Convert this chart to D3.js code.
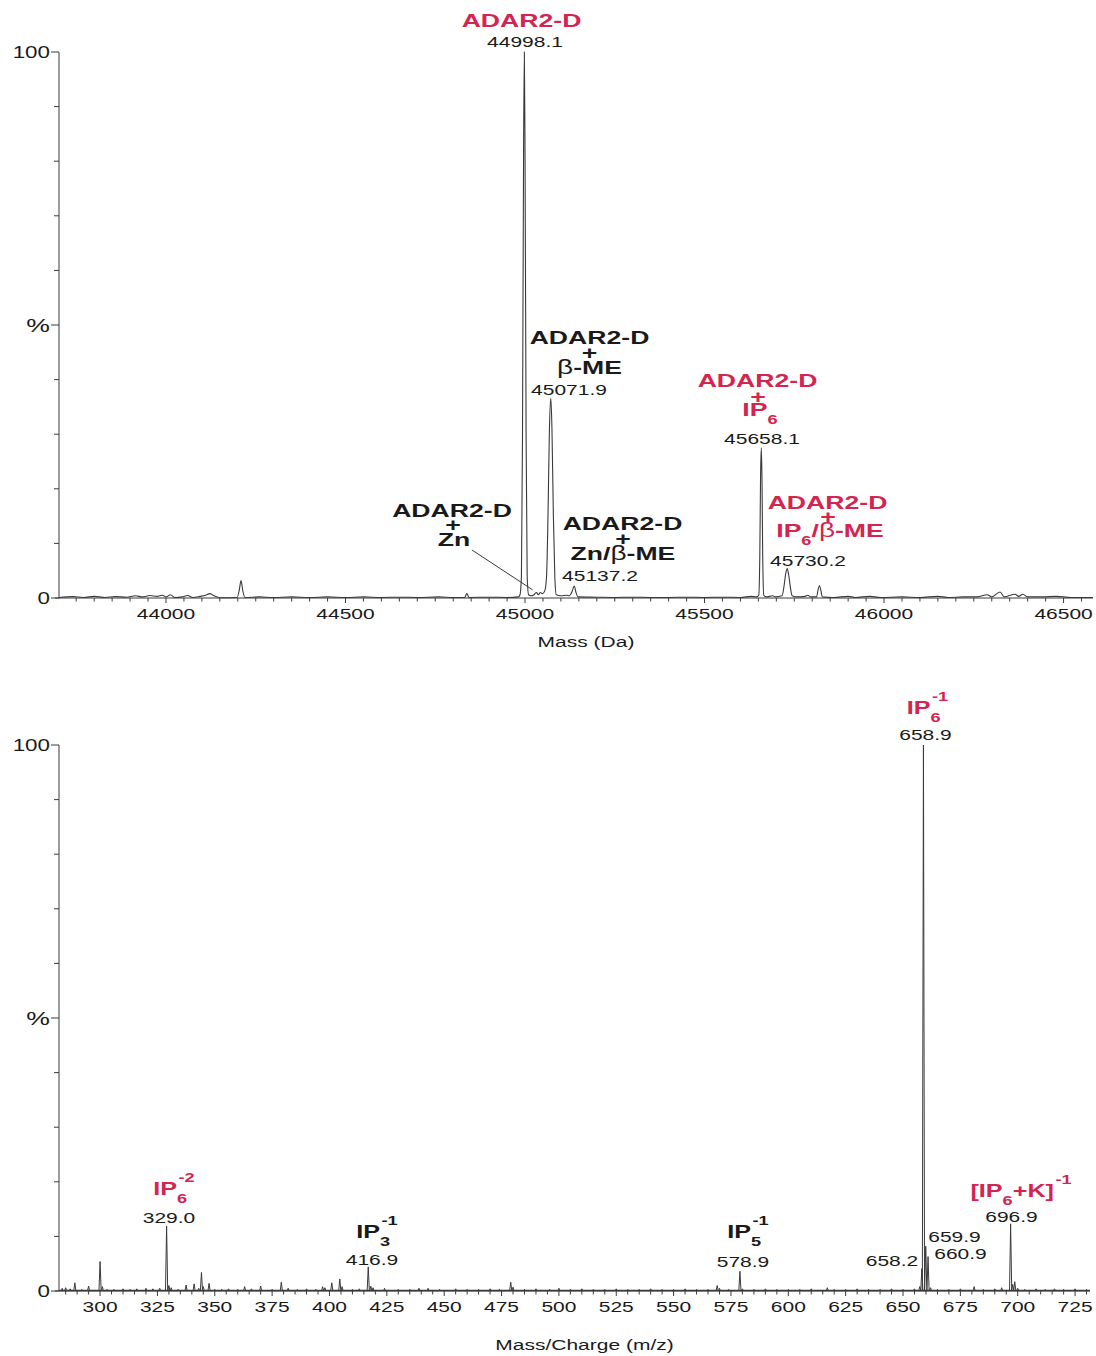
<!DOCTYPE html>
<html><head><meta charset="utf-8">
<script src="https://cdn.jsdelivr.net/npm/d3@7"></script>
<style>
body{margin:0;background:#fff}
svg{display:block}
text{font-family:"Liberation Sans",Arial,Helvetica,sans-serif}
</style>
</head><body>
<svg id="c" width="1096" height="1356"></svg>
<script>
// ---------------- DATA ----------------
// Deconvoluted protein spectrum: [mass (Da), relative intensity %]
const topSpectrum = [
[43702,0.1],[43740,0.25],[43770,0.1],[43800,0.3],[43830,0.1],[43860,0.25],[43890,0.15],[43915,0.4],[43935,0.2],[43955,0.45],[43975,0.3],[43990,0.5],[44000,0.2],[44012,0.6],[44025,0.1],[44045,0.2],[44060,0.45],[44075,0.1],[44095,0.3],[44110,0.5],[44122,0.8],[44134,0.4],[44150,0.05],
[44198,0.1],[44204,1.4],[44209,3.2],[44214,1.3],[44220,0.05],
[44260,0.2],[44300,0.1],[44350,0.2],[44400,0.1],[44450,0.2],[44500,0.1],[44550,0.2],[44600,0.1],[44650,0.15],[44700,0.1],[44760,0.2],[44800,0.1],[44832,0.1],[44838,0.8],[44844,0.1],[44900,0.15],[44950,0.1],[44982,0.2],
[44986,0.6],[44990,4],[44993,30],[44996,82],[44998.1,100],[45000,82],[45003,30],[45006,4],[45010,0.6],
[45018,0.4],[45025,0.6],[45032,1.0],[45037,0.6],[45043,1.0],[45049,0.8],[45055,1.3],
[45060,4],[45064,15],[45068,31],[45071.9,36.6],[45075,31],[45079,15],[45083,4],[45087,0.6],
[45100,0.4],[45115,0.5],[45124,0.4],[45131,1.2],[45137.2,2.2],[45142,1.0],[45148,0.2],
[45200,0.15],[45250,0.1],[45300,0.15],[45350,0.1],[45400,0.1],[45450,0.15],[45500,0.1],[45550,0.15],[45600,0.1],[45630,0.3],[45645,0.2],[45651,0.5],[45654,8],[45656,22],[45658.1,27.5],[45660,22],[45662,8],[45665,0.5],[45672,0.2],[45690,0.4],[45698,0.2],
[45716,0.4],[45721,2],[45726,4.4],[45730.2,5.4],[45734,4.4],[45739,2],[45744,0.4],[45755,0.2],
[45780,0.3],[45788,0.5],[45796,0.2],[45812,0.2],[45816,1.4],[45820,2.3],[45824,1.4],[45828,0.2],
[45860,0.1],[45900,0.3],[45920,0.1],[45960,0.3],[45990,0.1],[46050,0.2],[46100,0.1],[46150,0.3],[46180,0.1],[46220,0.2],[46260,0.2],[46287,0.6],[46300,0.2],[46323,1.1],[46335,0.2],[46365,0.7],[46375,0.3],[46387,0.7],[46400,0.2],[46440,0.2],[46480,0.3],[46520,0.1],[46582,0.1]
];
const topDomain = [43702, 46582];
const topTickLabels = [44000, 44500, 45000, 45500, 46000, 46500];
const topMinorStep = 50;
// pointer from "Zn" label to the small Zn adduct bump: [mass, %]
const znPointer = [[44852, 8.8], [45021, 1.5]];

// ESI negative-ion spectrum peaks: [m/z, relative intensity %]
const bottomPeaks = [
[283.5,0.5],[285,0.6],[287,0.4],[289,1.5],[292,0.3],[295,0.9],[300.0,5.4],[301,0.8],[303,0.3],[306,0.3],[310,0.4],[313,0.3],[316,0.4],[320,0.5],[323,0.4],[326,0.5],[329.0,11.9],[330,1.0],[331,0.6],[334,0.3],[337.5,1.1],[341,1.3],[343,0.5],[344.2,3.4],[345,0.8],[347.5,1.4],[350,0.3],[353,0.3],[356,0.4],[360,0.3],[363,0.8],[366,0.4],[370,0.9],[375,0.3],[379,1.6],[382,0.5],[386,0.3],[390,0.4],[394,0.3],[397,0.8],[398,0.6],[401,1.5],[404.5,2.2],[405.5,0.8],[410,0.3],[413,0.4],[416.9,4.4],[418,0.9],[419,0.6],[424,0.5],[430,0.3],[435,0.3],[439,0.5],[443,0.5],[448,0.3],[455,0.4],[460,0.3],[465,0.3],[470,0.4],[474,0.3],[479,1.6],[480,0.7],[485,0.3],[490,0.4],[496,0.3],[500,0.5],[505,0.3],[510,0.4],[515,0.3],[520,0.3],[525,0.4],[530,0.3],[535,0.3],[540,0.4],[545,0.3],[550,0.3],[555,0.4],[560,0.3],[565,0.3],[569,1.0],[570,0.5],[574,0.3],[578.9,3.6],[580,0.4],[585,0.3],[590,0.4],[595,0.3],[600,0.3],[605,0.3],[610,0.4],[617,0.6],[620,0.3],[625,0.3],[630,0.4],[635,0.3],[640,0.3],[645,0.4],[650,0.3],[655,0.4],[657.3,0.8],[658.2,4.1],[658.9,100],[659.9,8.2],[660.9,6.3],[662,0.6],[665,0.3],[670,0.3],[675,0.4],[681,0.8],[685,0.3],[690,0.4],[693,0.6],[696.9,12.3],[697.8,1.2],[698.7,1.7],[700,0.5],[703,0.3],[708,0.4],[712,0.3],[716,0.4],[720,0.3],[725,0.4],[730,0.3]
];
const bottomDomain = [282.1, 731.5];
const bottomTickLabels = [300,325,350,375,400,425,450,475,500,525,550,575,600,625,650,675,700,725];
const bottomMinorStep = 5;

const yTickValues = [0,10,20,30,40,50,60,70,80,90,100];
const yTickText = {0:"0", 50:"%", 100:"100"};

// ---------------- STYLE / LAYOUT ----------------
const RED = "#d42450", INK = "#1a1a1a", LINE = "#3a3a3a";
const SX = 1.4; // horizontal stretch of the lettering
const panels = {
  top:    {x0:59, x1:1093, y0:598,  y1:52},
  bottom: {x0:59, x1:1090, y0:1291, y1:745}
};

const svg = d3.select("#c");

function txt(parent, x, y, s, o={}) {
  const g = parent.append("g").attr("transform", `translate(${x},${y}) scale(${SX},1)`);
  g.append("text").attr("text-anchor", o.anchor || "middle")
    .attr("font-size", o.size || 15).attr("font-weight", o.weight || "normal")
    .attr("fill", o.fill || INK).text(s);
  return g;
}
// parts: {t} text (optional w: weight), {sub, sup} stacked scripts
function rich(parent, cx, y, parts, o={}) {
  const size = o.size || 19, ss = o.ss || 13, fill = o.fill || INK;
  const subDy = o.subDy ?? 7.5, supDy = o.supDy ?? -13;
  const g = parent.append("g").attr("transform", `translate(${cx},${y}) scale(${SX},1)`);
  const inner = g.append("g");
  let cur = 0;
  parts.forEach(p => {
    if (p.t !== undefined) {
      const t = inner.append("text").attr("x", cur).attr("font-size", p.size || size)
        .attr("font-weight", p.w || "bold").attr("fill", fill).text(p.t);
      cur += t.node().getComputedTextLength();
    } else {
      let w = 0;
      if (p.sub !== undefined) {
        const t = inner.append("text").attr("x", cur).attr("y", subDy).attr("font-size", ss)
          .attr("font-weight", "bold").attr("fill", fill).text(p.sub);
        w = Math.max(w, t.node().getComputedTextLength());
      }
      if (p.sup !== undefined) {
        const t = inner.append("text").attr("x", cur + 1).attr("y", supDy).attr("font-size", ss)
          .attr("font-weight", "bold").attr("fill", fill).text(p.sup);
        w = Math.max(w, t.node().getComputedTextLength() + 1);
      }
      cur += w;
    }
  });
  inner.attr("transform", `translate(${-cur/2},0)`);
  return g;
}

function yAxis(P) {
  const y = d3.scaleLinear().domain([0,100]).range([P.y0, P.y1]);
  const g = svg.append("g");
  g.append("line").attr("x1", P.x0).attr("x2", P.x0).attr("y1", P.y0).attr("y2", P.y1)
    .attr("stroke", LINE).attr("stroke-width", 1);
  yTickValues.forEach(v => {
    const lab = yTickText[v] !== undefined;
    g.append("line").attr("x1", P.x0 - (lab ? 8 : 5)).attr("x2", P.x0)
      .attr("y1", y(v)).attr("y2", y(v)).attr("stroke", LINE).attr("stroke-width", 1);
    if (lab) {
      const pct = yTickText[v] === "%";
      txt(g, P.x0 - 9, y(v) + (pct ? 6.5 : 5.5), yTickText[v], {anchor:"end", size: pct ? 19 : 16});
    }
  });
  return y;
}

function xAxis(P, x, labels, step, titleY, title) {
  const g = svg.append("g");
  g.append("line").attr("x1", P.x0 - 4).attr("x2", P.x1).attr("y1", P.y0).attr("y2", P.y0)
    .attr("stroke", LINE).attr("stroke-width", 1);
  const [d0, d1] = x.domain();
  const minors = d3.range(Math.ceil(d0 / step) * step, d1, step);
  minors.forEach(v => {
    const major = labels.includes(v);
    g.append("line").attr("x1", x(v)).attr("x2", x(v)).attr("y1", P.y0).attr("y2", P.y0 + (major ? 5 : 3.5))
      .attr("stroke", LINE).attr("stroke-width", 1);
  });
  labels.forEach(v => txt(g, x(v), P.y0 + 21, String(v), {size:15}));
  txt(g, (P.x0 + P.x1) / 2 + 10, titleY, title, {size:15});
}

// ---------------- TOP PANEL ----------------
{
  const P = panels.top;
  const x = d3.scaleLinear().domain(topDomain).range([P.x0, P.x1]);
  const y = yAxis(P);
  xAxis(P, x, topTickLabels, topMinorStep, 646.5, "Mass (Da)");
  const line = d3.line().x(d => x(d[0])).y(d => y(d[1])).curve(d3.curveMonotoneX);
  svg.append("path").datum(topSpectrum).attr("d", line)
    .attr("fill", "none").attr("stroke", LINE).attr("stroke-width", 1.1);
  svg.append("line")
    .attr("x1", x(znPointer[0][0])).attr("y1", y(znPointer[0][1]))
    .attr("x2", x(znPointer[1][0])).attr("y2", y(znPointer[1][1]))
    .attr("stroke", LINE).attr("stroke-width", 1);

  const L = svg.append("g");
  const beta = {t:"β", w:"normal", size:20};
  // main peak
  rich(L, 521.5, 27, [{t:"ADAR2-D"}], {fill:RED});
  txt(L, 525, 46.5, "44998.1");
  // + beta-ME
  rich(L, 589.5, 344, [{t:"ADAR2-D"}]);
  rich(L, 589.5, 359, [{t:"+"}]);
  rich(L, 589.5, 373.5, [beta, {t:"-ME"}]);
  txt(L, 569, 395, "45071.9");
  // + Zn
  rich(L, 452, 517, [{t:"ADAR2-D"}]);
  rich(L, 453, 531, [{t:"+"}]);
  rich(L, 454, 545.5, [{t:"Zn"}]);
  // + Zn/beta-ME
  rich(L, 622.5, 530, [{t:"ADAR2-D"}]);
  rich(L, 623, 544.5, [{t:"+"}]);
  rich(L, 623, 559.5, [{t:"Zn/"}, beta, {t:"-ME"}]);
  txt(L, 600, 580.5, "45137.2");
  // + IP6
  rich(L, 757.5, 387, [{t:"ADAR2-D"}], {fill:RED});
  rich(L, 758, 402.5, [{t:"+"}], {fill:RED});
  rich(L, 760, 416, [{t:"IP"}, {sub:"6"}], {fill:RED});
  txt(L, 762, 443.5, "45658.1");
  // + IP6/beta-ME
  rich(L, 827.5, 508.5, [{t:"ADAR2-D"}], {fill:RED});
  rich(L, 828, 522.5, [{t:"+"}], {fill:RED});
  rich(L, 830, 537, [{t:"IP"}, {sub:"6"}, {t:"/"}, beta, {t:"-ME"}], {fill:RED});
  txt(L, 808, 565.5, "45730.2");
}

// ---------------- BOTTOM PANEL ----------------
{
  const P = panels.bottom;
  const x = d3.scaleLinear().domain(bottomDomain).range([P.x0, P.x1]);
  const y = yAxis(P);
  xAxis(P, x, bottomTickLabels, bottomMinorStep, 1350, "Mass/Charge (m/z)");
  svg.append("line").attr("x1", P.x0).attr("x2", P.x1).attr("y1", P.y0 - 0.5).attr("y2", P.y0 - 0.5)
    .attr("stroke", LINE).attr("stroke-width", 1.3);
  svg.append("g").selectAll("path").data(bottomPeaks).join("path")
    .attr("d", d => `M${x(d[0]) - 1.1},${P.y0} L${x(d[0])},${y(d[1])} L${x(d[0]) + 1.1},${P.y0}`)
    .attr("fill", "none").attr("stroke", LINE).attr("stroke-width", 1);

  const L = svg.append("g");
  const so = {size:18, ss:13, subDy:8, supDy:-13};
  rich(L, 927.5, 714, [{t:"IP"}, {sub:"6", sup:"-1"}], {...so, fill:RED});
  txt(L, 925.5, 739.5, "658.9");
  rich(L, 174, 1195, [{t:"IP"}, {sub:"6", sup:"-2"}], {...so, fill:RED});
  txt(L, 169, 1222.5, "329.0");
  rich(L, 377, 1238, [{t:"IP"}, {sub:"3", sup:"-1"}], so);
  txt(L, 372, 1265, "416.9");
  rich(L, 748, 1238, [{t:"IP"}, {sub:"5", sup:"-1"}], so);
  txt(L, 743, 1266.5, "578.9");
  rich(L, 1021, 1197, [{t:"[IP"}, {sub:"6"}, {t:"+K]"}, {sup:"-1"}], {...so, fill:RED});
  txt(L, 1011.5, 1221.5, "696.9");
  txt(L, 954.5, 1241.5, "659.9");
  txt(L, 960.5, 1259, "660.9");
  txt(L, 892, 1265.5, "658.2");
}
</script>
</body></html>
